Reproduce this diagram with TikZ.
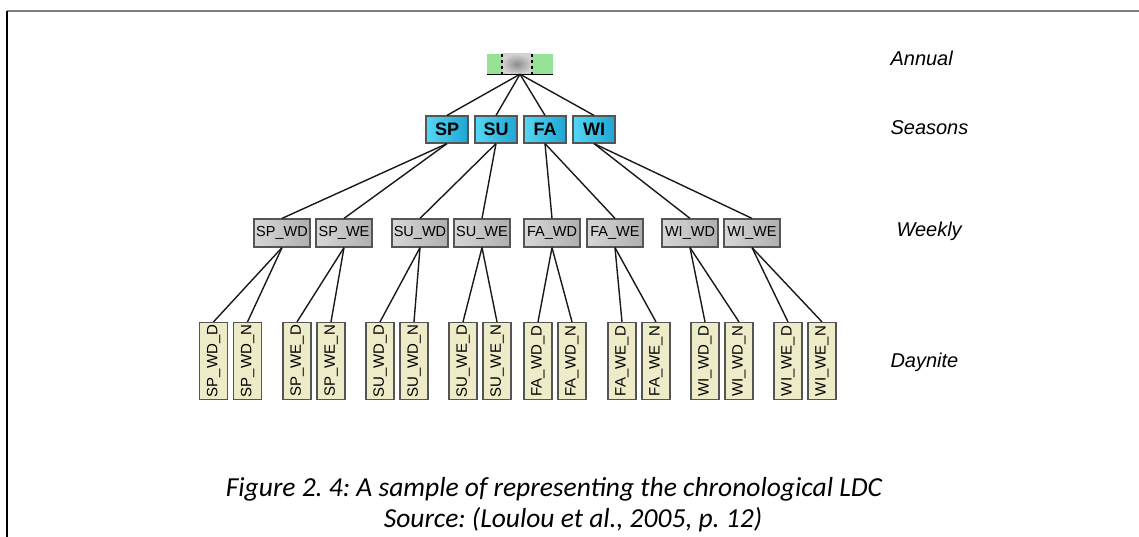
\documentclass[tikz,border=0pt]{standalone}
\usepackage{fontspec}
\newfontfamily\arialfont{Liberation Sans}
\newfontfamily\calfont{Carlito}
\usetikzlibrary{positioning}
\definecolor{seasonlight}{RGB}{85,215,245}
\definecolor{seasondark}{RGB}{30,165,210}
\definecolor{weeklight}{RGB}{215,215,215}
\definecolor{weekdark}{RGB}{175,175,175}
\definecolor{daybeige}{RGB}{238,235,200}
\definecolor{annualgreen}{RGB}{150,226,150}
\definecolor{boxborder}{RGB}{85,85,85}
\tikzset{
  annual/.style={fill=annualgreen, minimum width=66pt, minimum height=20pt, inner sep=0pt},
  season/.style={draw=boxborder, line width=1.2pt, left color=seasonlight, right color=seasondark,
    minimum width=42pt, minimum height=27pt, inner sep=0pt,
    font=\arialfont\bfseries\fontsize{18}{18}\selectfont},
  week/.style={draw=boxborder, line width=1.2pt, left color=weeklight, right color=weekdark,
    minimum width=56pt, minimum height=28pt, inner sep=0pt,
    font=\arialfont\fontsize{14.5}{14.5}\selectfont},
  daynite/.style={draw=boxborder, line width=1.2pt, fill=daybeige, rotate=90,
    minimum width=77pt, minimum height=28pt, inner sep=0pt,
    font=\arialfont\fontsize{15}{15}\selectfont},
  level/.style={anchor=west, font=\arialfont\itshape\fontsize{20}{20}\selectfont},
  caption/.style={font=\calfont\itshape\fontsize{27.5}{27.5}\selectfont},
  link/.style={line width=1.4pt, black!90}
}
\frenchspacing
\begin{document}
\begin{tikzpicture}[x=1pt, y=-1pt]
  \useasboundingbox (0,0) rectangle (1139,537);
  % frame
  \draw[line width=2pt, gray] (7,11) -- (1139,11);
  \draw[line width=2pt, black] (7,11) -- (7,537);

  % --- Annual ---
  \node[annual] (ann) at (520,64) {};
  \shade[inner color=gray!90, outer color=gray!35]
    ([xshift=-18pt]ann.north) rectangle ([xshift=12pt]ann.south);
  \draw[dashed, line width=1.2pt] ([xshift=-18pt]ann.north) -- ([xshift=-18pt]ann.south)
    ([xshift=12pt]ann.north) -- ([xshift=12pt]ann.south);
  \draw[line width=1.2pt] (ann.south west) -- (ann.south east);

  % --- Seasons ---
  \foreach \s/\S/\x in {sp/SP/447, su/SU/496, fa/FA/545, wi/WI/594}{
    \node[season] (\s) at (\x,129.5) {\S};
    \draw[link] (ann.south) -- (\s.north);
  }

  % --- Weekly ---
  \foreach \s/\S/\xa/\xb in {sp/SP/282/344, su/SU/420/482, fa/FA/552/615, wi/WI/690/752}{
    \node[week] (\s wd) at (\xa,233) {\S\_WD};
    \node[week] (\s we) at (\xb,233) {\S\_WE};
    \draw[link] (\s.south) -- (\s wd.north);
    \draw[link] (\s.south) -- (\s we.north);
  }

  % --- Daynite ---
  \foreach \w/\W/\x in {spwd/SP\_WD/230.5, spwe/SP\_WE/314, suwd/SU\_WD/397, suwe/SU\_WE/480,
      fawd/FA\_WD/555, fawe/FA\_WE/639, wiwd/WI\_WD/722, wiwe/WI\_WE/805}{
    \node[daynite] (\w d) at (\x-17,361) {\W\_D};
    \node[daynite] (\w n) at (\x+17,361) {\W\_N};
    \draw[link] (\w.south) -- (\w d.east);
    \draw[link] (\w.south) -- (\w n.east);
  }

  % level labels
  \node[level] (lann) at (887,58) {Annual};
  \node[level] (lsea) at (887,128) {Seasons};
  \node[level] (lwee) at (893,231) {Weekly};
  \node[level] (lday) at (887,362) {Daynite};

  % caption
  \node[caption] (cap1) at (554,489) {Figure 2. 4: A sample of representing the chronological LDC};
  \node[caption] (cap2) at (573,520) {Source: (Loulou et al., 2005, p. 12)};
\end{tikzpicture}
\end{document}
